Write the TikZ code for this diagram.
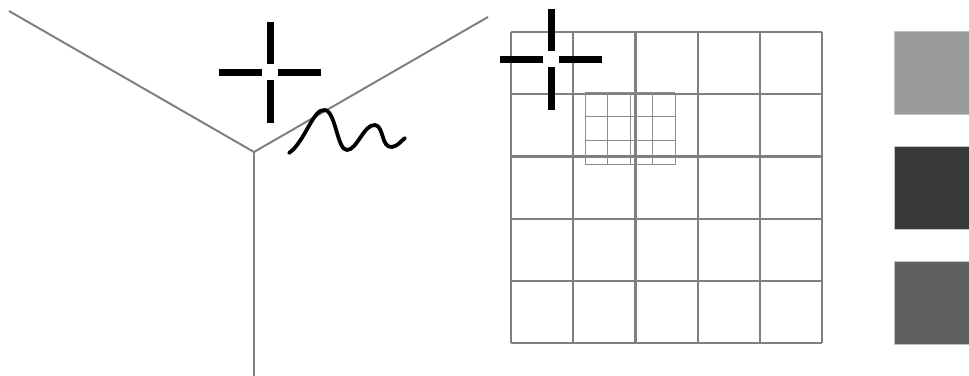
\documentclass[tikz,border=0pt]{standalone}
\usepackage{tikz}

\begin{document}
\begin{tikzpicture}[x=1pt, y=-1pt, line join=round]

    % Define custom colors to match the image accurately
    \definecolor{wallgray}{RGB}{128, 128, 128}
    \definecolor{finegray}{RGB}{140, 140, 140}
    \definecolor{edgegray}{RGB}{195, 195, 195}
    \definecolor{shadelight}{RGB}{155, 155, 155}
    \definecolor{shadedark}{RGB}{56, 56, 56}
    \definecolor{shademid}{RGB}{95, 95, 95}

    % fix the page size
    \useasboundingbox (0,0) rectangle (969,375);

    % =======================================================
    % LEFT: JUNCTION WITH CROSSHAIR AND WAVE
    % =======================================================
    \coordinate (junction) at (254,152);
    \coordinate (armleft) at (9,11);
    \coordinate (armright) at (488,17);
    \coordinate (armdown) at (254,376);

    % 1. Draw the three gray walls
    \draw[wallgray, line width=2pt] (armleft) -- (junction) -- (armright);
    \draw[wallgray, line width=2pt] (junction) -- (armdown);

    % 2. Draw the black wave
    \draw[black, line width=3.8pt, line cap=round]
        (289,153) .. controls (305,142) and (313,108) .. (325,110)
                  .. controls (336,112) and (337,150) .. (347,150)
                  .. controls (357,150) and (364,124) .. (375,125)
                  .. controls (384,126) and (381,148) .. (392,147)
                  .. controls (398,146) and (401,141) .. (405,138);

    % =======================================================
    % RIGHT: COARSE GRID WITH FINE PATCH
    % =======================================================

    % 1. Draw Coarse Grid
    \foreach \i in {0,...,5} {
        \draw[wallgray, line width=2.2pt] (511+62.2*\i,32) -- (511+62.2*\i,343);
        \draw[wallgray, line width=2.2pt] (511,32+62.2*\i) -- (822,32+62.2*\i);
    }

    % 2. Draw Fine Patch (4 x 3 cells)
    \foreach \i in {0,...,4} {
        \draw[finegray, line width=0.9pt] (585+22.5*\i,92.5) -- (585+22.5*\i,164.5);
    }
    \foreach \j in {0,...,3} {
        \draw[finegray, line width=0.9pt] (585,92.5+24*\j) -- (675,92.5+24*\j);
    }

    % =======================================================
    % CROSSHAIRS (drawn on top of everything)
    % =======================================================
    \foreach \cx/\cy in {270/72, 551/59} {
        \draw[black, line width=7pt] (\cx,\cy-50) -- (\cx,\cy-8);
        \draw[black, line width=7pt] (\cx,\cy+8) -- (\cx,\cy+51);
        \draw[black, line width=7pt] (\cx-51,\cy) -- (\cx-8,\cy);
        \draw[black, line width=7pt] (\cx+8,\cy) -- (\cx+51,\cy);
    }

    % =======================================================
    % SHADE SWATCHES (cut by the right edge)
    % =======================================================
    \foreach \y/\c in {31/shadelight, 146/shadedark, 261/shademid} {
        \filldraw[fill=\c, draw=edgegray, line width=0.8pt] (894.5,\y) rectangle (978,\y+83);
    }

\end{tikzpicture}
\end{document}
